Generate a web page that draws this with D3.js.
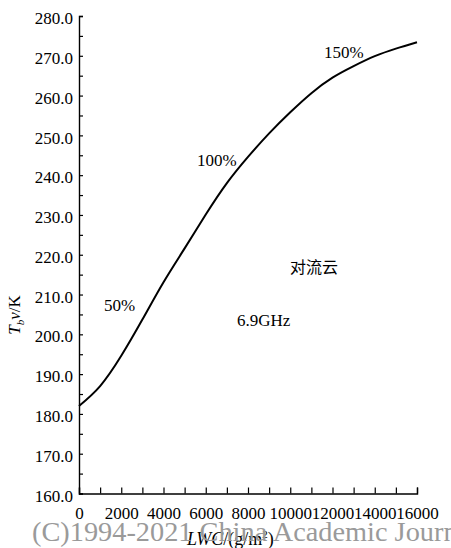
<!DOCTYPE html>
<html>
<head>
<meta charset="utf-8">
<script src="https://cdn.jsdelivr.net/npm/d3@7"></script>
<style>
  body { margin: 0; background: #fff; }
  text { font-family: "Liberation Serif", "DejaVu Serif", serif; }
</style>
</head>
<body>
<script>
  var w = 451; // width of SVG space
  var h = 548; // height of SVG space

  // LWC values (g/m^2) and brightness temperature Tbv (K)
  var lwc = [0, 1000, 2000, 3000, 4000, 5000, 6000, 7000, 8000, 9000, 10000, 11000, 12000, 13000, 14000, 15000, 16000];
  var tbv = [182.0, 187.0, 194.6, 203.7, 213.1, 221.6, 230.1, 238.0, 244.6, 250.5, 255.8, 260.6, 264.5, 267.4, 269.9, 271.8, 273.4];

  // tick values
  var xTicks = d3.range(0, 16001, 1000);
  var yTicks = d3.range(160, 281, 5);

  // text labels on the plot
  var notes = [
    { text: "50%", x: 1180, y: 205.9 },
    { text: "100%", x: 5590, y: 242.3 },
    { text: "150%", x: 11600, y: 269.4 },
    { text: "6.9GHz", x: 7480, y: 202.1 },
    { text: "对流云", x: 9990, y: 215.4 }
  ];

  var svg = d3.select("body").append("svg").attr("width", w).attr("height", h);

  var xScale = d3.scaleLinear().domain([0, 16000]).range([79, 417]);
  var yScale = d3.scaleLinear().domain([160, 280]).range([493.5, 16]);

  // y axis, ticks pointing inside, labels only every 10 K
  var yAxis = d3.axisLeft(yScale).tickValues(yTicks).tickSize(-4).tickPadding(6)
      .tickFormat(function (d) { return d % 10 === 0 ? d3.format(".1f")(d) : ""; });
  var gy = svg.append("g").attr("transform", "translate(79,0)").call(yAxis);

  // x axis, ticks pointing up, labels every 2000
  var xAxis = d3.axisBottom(xScale).tickValues(xTicks).tickSize(-6).tickPadding(13)
      .tickFormat(function (d) { return d % 2000 === 0 ? d : ""; });
  var gx = svg.append("g").attr("transform", "translate(0,493.5)").call(xAxis);

  [gy, gx].forEach(function (g) {
    g.select(".domain").attr("stroke", "#000").attr("stroke-width", 1.4);
    g.selectAll(".tick line").attr("stroke", "#000").attr("stroke-width", 1.2);
    g.selectAll(".tick text").attr("fill", "#000").style("font-size", "17px")
      .style("font-family", "'Liberation Serif', serif");
  });
  gy.selectAll(".tick text").attr("dy", "0.45em");

  // the curve
  var line = d3.line()
      .x(function (d, i) { return xScale(lwc[i]); })
      .y(function (d) { return yScale(d); })
      .curve(d3.curveNatural);

  svg.append("path").datum(tbv)
      .attr("d", line)
      .attr("fill", "none")
      .attr("stroke", "#000")
      .attr("stroke-width", 2);

  // annotations
  svg.selectAll("text.note").data(notes).enter().append("text")
      .attr("class", "note")
      .text(function (d) { return d.text; })
      .attr("x", function (d) { return xScale(d.x); })
      .attr("y", function (d) { return yScale(d.y); })
      .style("font-size", function (d) { return d.text === "对流云" ? "16px" : "17px"; })
      .style("font-family", function (d) {
        return d.text === "对流云" ? "'Noto Sans CJK SC', sans-serif" : "'Liberation Serif', serif";
      })
      .attr("fill", "#000");

  // x axis title
  var xt = svg.append("text").attr("x", 187).attr("y", 545).style("font-size", "18px").attr("fill", "#000");
  xt.append("tspan").style("font-style", "italic").text("LWC");
  xt.append("tspan").text("/(g/m");
  xt.append("tspan").attr("dy", -7).style("font-size", "11px").text("2");
  xt.append("tspan").attr("dy", 7).text(")");

  // y axis title
  var yt = svg.append("text").attr("transform", "translate(20,315) rotate(-90)")
      .attr("text-anchor", "middle").style("font-size", "17px").attr("fill", "#000");
  yt.append("tspan").style("font-style", "italic").text("T");
  yt.append("tspan").attr("dy", 4).style("font-size", "11px").style("font-style", "italic").text("b");
  yt.append("tspan").attr("dy", -4).style("font-style", "italic").text("v");
  yt.append("tspan").text("/K");

  // watermark of the source
  svg.append("text").attr("x", 32).attr("y", 541)
      .attr("textLength", 446).attr("lengthAdjust", "spacingAndGlyphs")
      .style("font-size", "28px").attr("fill", "#9a9a9a")
      .text("(C)1994-2021 China Academic Journal");
</script>
</body>
</html>
